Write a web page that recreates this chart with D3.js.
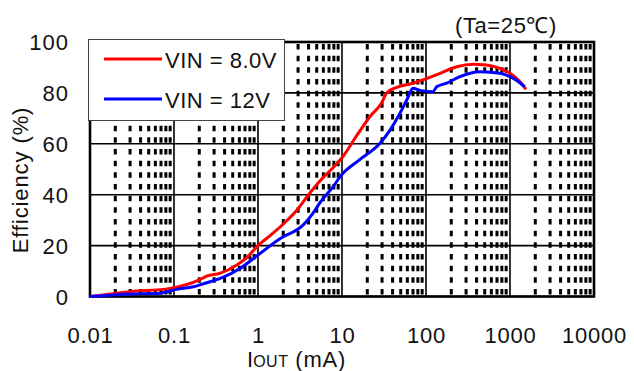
<!DOCTYPE html>
<html><head><meta charset="utf-8">
<script src="https://cdn.jsdelivr.net/npm/d3@7"></script>
<style>
html,body{margin:0;padding:0;background:#fff;}
svg{display:block;}
text{font-family:"Liberation Sans",Arial,sans-serif;fill:#111;}
</style></head>
<body>
<svg id="c" width="634" height="371"></svg>
<script>
// ---- data ----
const xTicks = [0.01, 0.1, 1, 10, 100, 1000, 10000];
const xTickLabels = ["0.01", "0.1", "1", "10", "100", "1000", "10000"];
const yTicks = [0, 20, 40, 60, 80, 100];
const seriesNames = ["VIN = 8.0V", "VIN = 12V"];
const seriesColors = ["#ff0000", "#0000ff"];

const iout8 = [0.01, 0.03, 0.09, 0.2, 0.245, 0.35, 0.56, 0.73, 1.0, 1.4, 2.0, 3.0, 4.0, 5.5, 7.5, 10, 15.5, 22.3, 29.6, 34, 44.8, 70, 103, 147, 232, 363, 525, 760, 1000, 1316, 1550];
const eff8  = [0, 1.9, 3.2, 6.5, 8, 9.1, 12.4, 15.2, 20, 24, 28.5, 34.5, 40, 45.5, 50, 54.5, 64, 71.3, 76, 80, 82.2, 83.8, 85.7, 87.7, 90.3, 91.3, 91, 89.6, 87.7, 84.4, 81.4];

const iout12 = [0.01, 0.03, 0.068, 0.107, 0.17, 0.22, 0.27, 0.38, 0.61, 1.0, 2.0, 2.6, 3.16, 4.5, 5.5, 7.8, 10, 16, 28.3, 37.3, 49, 59, 70, 85, 121, 134, 176, 254, 440, 760, 1096, 1500];
const eff12  = [0, 1.0, 1.3, 2.8, 3.8, 4.9, 5.8, 7.5, 11, 16.3, 23.5, 25.3, 27, 32.7, 37, 43.1, 48, 53.6, 60.2, 65.4, 72, 77.2, 81.8, 81, 80.5, 82.4, 83.8, 86.4, 88.3, 87.7, 85.7, 82.4];

// ---- layout ----
const L = 90, R = 594, T = 42, B = 296.5;
const svg = d3.select("#c");
const x = d3.scaleLog().domain([0.01, 10000]).range([L, R]);
const y = d3.scaleLinear().domain([0, 100]).range([B, T]);

const g = svg.append("g");

// minor vertical dashed lines
const minors = [];
for (let d = -2; d < 4; d++) for (let m = 2; m <= 9; m++) minors.push(m * Math.pow(10, d));
g.selectAll("line.minor").data(minors).enter().append("line")
  .attr("x1", d => x(d)).attr("x2", d => x(d))
  .attr("y1", T).attr("y2", B)
  .attr("stroke", "#000").attr("stroke-width", 3)
  .attr("stroke-dasharray", "5.5 6.17").attr("stroke-dashoffset", 9.7);

// major grid
g.selectAll("line.vmaj").data(xTicks).enter().append("line")
  .attr("x1", d => x(d)).attr("x2", d => x(d)).attr("y1", T).attr("y2", B)
  .attr("stroke", "#000").attr("stroke-width", 1.6);
g.selectAll("line.hmaj").data(yTicks).enter().append("line")
  .attr("x1", L).attr("x2", R).attr("y1", d => y(d)).attr("y2", d => y(d))
  .attr("stroke", "#000").attr("stroke-width", 1.6);

// frame
g.append("rect").attr("x", L).attr("y", T).attr("width", R - L).attr("height", B - T)
  .attr("fill", "none").attr("stroke", "#000").attr("stroke-width", 2.6);

// series
const line = d3.line().x(d => x(d[0])).y(d => y(d[1])).curve(d3.curveMonotoneX);
const sets = [d3.zip(iout8, eff8), d3.zip(iout12, eff12)];
sets.forEach((s, i) => {
  g.append("path").datum(s).attr("d", line).attr("fill", "none")
    .attr("stroke", seriesColors[i]).attr("stroke-width", 3).attr("stroke-linejoin", "round");
});

// axes labels (via d3 axes, then styled)
const yAxis = d3.axisLeft(y).tickValues(yTicks).tickSize(0).tickPadding(0);
const ya = svg.append("g").attr("transform", "translate(69,0)").call(yAxis);
ya.select(".domain").remove();
ya.selectAll("text").attr("font-size", 22).attr("letter-spacing", 1).attr("dy", "0.36em")
  .attr("font-family", "Liberation Sans, Arial, sans-serif").attr("fill", "#111");

const xAxis = d3.axisBottom(x).tickValues(xTicks).tickFormat((d, i) => xTickLabels[i]).tickSize(0).tickPadding(0);
const xa = svg.append("g").attr("transform", "translate(0,343)").call(xAxis);
xa.select(".domain").remove();
xa.selectAll("text").attr("font-size", 22).attr("letter-spacing", 0.8).attr("dy", 0).attr("y", 0)
  .attr("font-family", "Liberation Sans, Arial, sans-serif").attr("fill", "#111");

// y label
svg.append("text").attr("transform", "translate(28,180) rotate(-90)")
  .attr("text-anchor", "middle").attr("font-size", 22).attr("letter-spacing", 0.9)
  .text("Efficiency (%)");

// x label
const xl = svg.append("text").attr("x", 247).attr("y", 367).attr("font-size", 22);
xl.append("tspan").text("I");
xl.append("tspan").attr("font-size", 16).attr("letter-spacing", 0.5).text("OUT");
xl.append("tspan").attr("letter-spacing", 0.8).text(" (mA)");

// condition
svg.append("text").attr("x", 455).attr("y", 33).attr("font-size", 22).attr("letter-spacing", 0.6).text("(Ta=25\u2103)");

// legend
const lg = svg.append("g");
lg.append("rect").attr("x", 88.5).attr("y", 39.5).attr("width", 196).attr("height", 81)
  .attr("fill", "#fff").attr("stroke", "#444").attr("stroke-width", 1);
seriesNames.forEach((n, i) => {
  const yy = 59 + i * 40;
  lg.append("line").attr("x1", 104).attr("x2", 162).attr("y1", yy).attr("y2", yy)
    .attr("stroke", seriesColors[i]).attr("stroke-width", 3);
  lg.append("text").attr("x", 165).attr("y", yy + 8.5).attr("font-size", 22).attr("letter-spacing", 0.5).text(n);
});
</script>
</body></html>
